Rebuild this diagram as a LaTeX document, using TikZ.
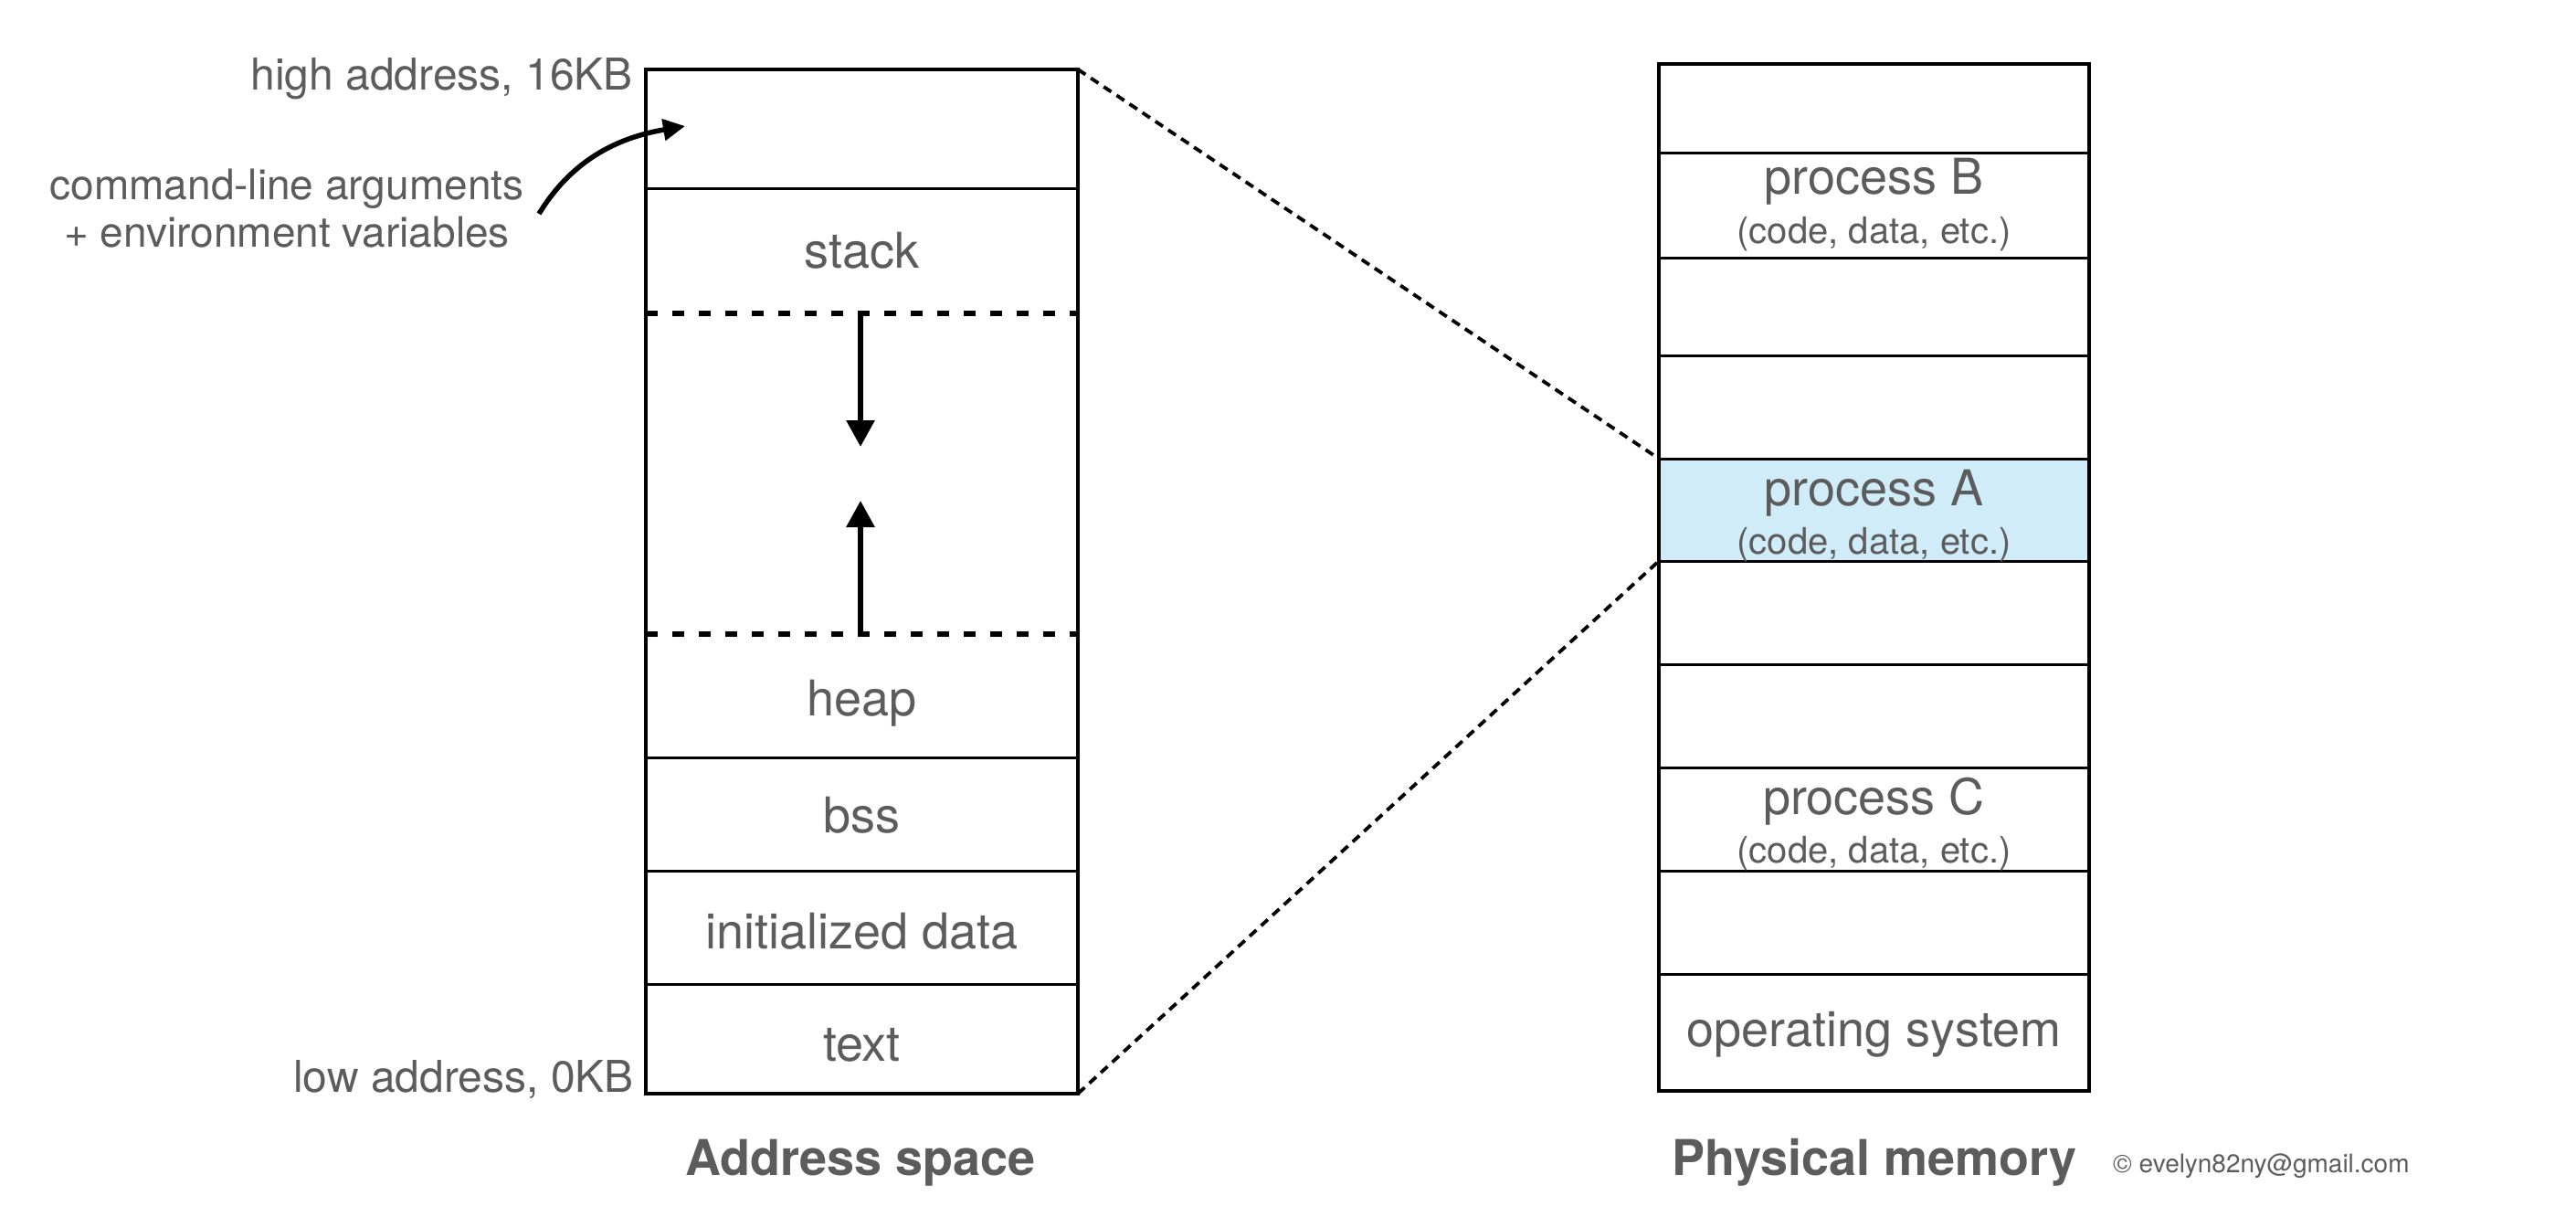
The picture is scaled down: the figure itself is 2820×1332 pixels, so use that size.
\documentclass[tikz,border=0pt]{standalone}
\usepackage{fontspec}
\setmainfont{TeX Gyre Heros}
\usetikzlibrary{arrows.meta}
\definecolor{txt}{RGB}{92,92,92}
\definecolor{pafill}{RGB}{208,236,248}
\begin{document}
\begin{tikzpicture}[x=1pt,y=-1pt,
  lbl/.style={text=txt, font=\fontsize{48}{56}\selectfont, inner sep=0pt},
  clbl/.style={text=txt, font=\fontsize{46}{54}\selectfont, inner sep=0pt},
  celltxt/.style={text=txt, font=\fontsize{54}{60}\selectfont, inner sep=0pt, anchor=base},
  subtxt/.style={text=txt, font=\fontsize{40}{46}\selectfont, inner sep=0pt, anchor=base},
  titletxt/.style={text=txt, font=\fontsize{54}{60}\selectfont\bfseries, inner sep=0pt, anchor=base},
  copytxt/.style={text=txt, font=\fontsize{28}{32}\selectfont, inner sep=0pt, anchor=base west},
  outerbox/.style={draw=black, line width=4.8pt, inner sep=0pt, outer sep=0pt},
  partline/.style={draw=black, line width=3pt},
  dashpart/.style={draw=black, line width=6.5pt, dash pattern=on 13pt off 16pt},
  growarrow/.style={draw=black, line width=6pt, -{Triangle[length=29pt,width=30pt]}},
  curvearrow/.style={draw=black, line width=5.5pt, -{Triangle[length=24pt,width=23pt]}},
  mapline/.style={draw=black, line width=3.8pt, dash pattern=on 10pt off 7pt}
]
\useasboundingbox (0,0) rectangle (2820,1332);

% ---------- Address space (left) ----------
\draw[partline] (707,207) -- (1180,207);
\draw[partline] (707,829) -- (1180,829);
\draw[partline] (707,953) -- (1180,953);
\draw[partline] (707,1077) -- (1180,1077);
\draw[dashpart] (707,343) -- (1180,343);
\draw[dashpart] (707,694) -- (1180,694);
\node[outerbox, minimum width=473pt, minimum height=1121pt] (asbox) at (943.5,636.5) {};

\node[celltxt] (stack) at (943.5,293) {stack};
\node[celltxt] (heap) at (943.5,783) {heap};
\node[celltxt] (bss) at (943.5,911) {bss};
\node[celltxt] (idata) at (943.5,1038) {initialized data};
\node[celltxt] (txtseg) at (943.5,1161) {text};

\coordinate (sdtop) at (942,343);
\coordinate (sdtip) at (942,489);
\coordinate (hubot) at (942,694);
\coordinate (hutip) at (942,548);
\draw[growarrow] (sdtop) -- (sdtip);
\draw[growarrow] (hubot) -- (hutip);

\node[lbl, anchor=base east] (high) at (693,99) {high address, 16KB};
\node[lbl, anchor=base east] (low) at (694,1195) {low address, 0KB};
\node[clbl, anchor=base] (cmd1) at (314,219) {command-line arguments};
\node[clbl, anchor=base] (cmd2) at (314,271) {+ environment variables};

\coordinate (cstart) at (590,234);
\coordinate (cend) at (750,138);
\draw[curvearrow] (cstart) .. controls (628,172) and (680,150) .. (cend);

\node[titletxt] (astitle) at (942,1286) {Address space};

% ---------- Physical memory (right) ----------
\node[fill=pafill, minimum width=471pt, minimum height=112pt, inner sep=0pt, outer sep=0pt] (procA) at (2051.5,558) {};
\foreach \yy in {168,282,389,502,614,727,840,953,1066}
  \draw[partline] (1816,\yy) -- (2287,\yy);
\node[outerbox, minimum width=471pt, minimum height=1124pt] (pmbox) at (2051.5,632) {};

\node[celltxt] (pB) at (2051.5,213) {process B};
\node[subtxt] (pBs) at (2051.5,266) {(code, data, etc.)};
\node[celltxt] (pA) at (2051.5,553) {process A};
\node[subtxt] (pAs) at (2051.5,606) {(code, data, etc.)};
\node[celltxt] (pC) at (2051.5,891) {process C};
\node[subtxt] (pCs) at (2051.5,944) {(code, data, etc.)};
\node[celltxt] (os) at (2051.5,1145) {operating system};

\node[titletxt] (pmtitle) at (2052,1286) {Physical memory};
\node[copytxt] (copy) at (2313,1283) {© evelyn82ny@gmail.com};

% ---------- mapping lines ----------
\draw[mapline] (asbox.north east) -- (procA.north west);
\draw[mapline] (asbox.south east) -- (procA.south west);
\end{tikzpicture}
\end{document}
